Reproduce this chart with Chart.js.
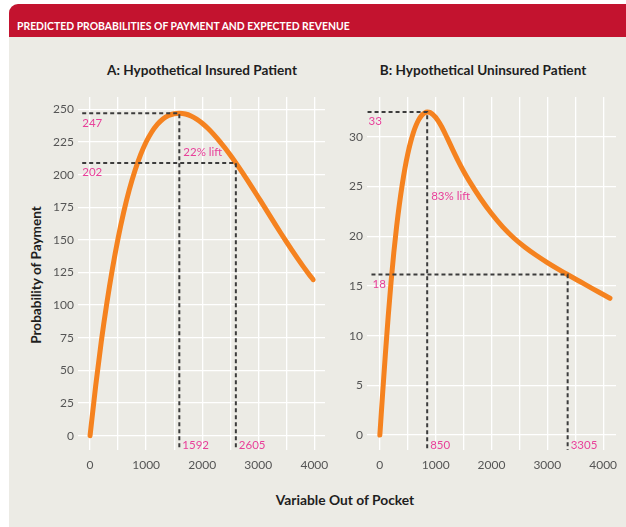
<!DOCTYPE html>
<html>
<head>
<meta charset="utf-8">
<script src="https://cdn.jsdelivr.net/npm/chart.js@4.4.1/dist/chart.umd.min.js"></script>
<style>
  html, body { margin:0; padding:0; background:#ffffff; width:626px; height:527px; overflow:hidden; }
  #card { position:absolute; left:9px; top:4px; width:617px; height:523px; background:#ecebe5; border-top-left-radius:9px; overflow:hidden; }
  #bar { position:absolute; left:0; top:0; width:617px; height:33px; background:#c3132f; }
  #hdr { position:absolute; left:8px; top:15px; font:bold 11.2px Lato, sans-serif; color:#fff; line-height:13px; white-space:nowrap; transform:scaleX(0.93); transform-origin:left center; }
  .ttl { position:absolute; font:bold 13.6px Lato, sans-serif; color:#1e1e1e; white-space:nowrap; transform:translateX(-50%); }
  #ylab { position:absolute; left:36px; top:275px; font:bold 13.6px Lato, sans-serif; color:#1e1e1e; white-space:nowrap; transform:translate(-50%,-50%) rotate(-90deg); }
  #xlab { position:absolute; left:345px; top:491px; font:bold 13.8px Lato, sans-serif; color:#1e1e1e; white-space:nowrap; transform:translateX(-50%); }
  canvas { position:absolute; }
</style>
</head>
<body>
<div id="card"><div id="bar"></div><div id="hdr">PREDICTED PROBABILITIES OF PAYMENT AND EXPECTED REVENUE</div></div>
<div class="ttl" style="left:202px; top:62px;">A: Hypothetical Insured Patient</div>
<div class="ttl" style="left:483px; top:62px;">B: Hypothetical Uninsured Patient</div>
<div id="ylab">Probability of Payment</div>
<div id="xlab">Variable Out of Pocket</div>
<div style="position:absolute; left:40px; top:90px; width:290px; height:380px;"><canvas id="cA"></canvas></div>
<div style="position:absolute; left:330px; top:90px; width:292px; height:380px;"><canvas id="cB"></canvas></div>
<script>
// ---- Data ----
const insuredX = [0, 100, 200, 300, 400, 500, 600, 700, 800, 900, 1000, 1100, 1200, 1300, 1400, 1500, 1592,
                  1700, 1800, 1900, 2000, 2100, 2200, 2300, 2400, 2500, 2600, 2700, 2800, 2900, 3000, 3100, 3200,
                  3300, 3400, 3500, 3600, 3700, 3800, 3900, 3979];
const insuredY = [0, 38, 72, 101.7, 128.1, 151.3, 171.3, 188.5, 203, 215.2, 225, 232.7, 238.5, 242.7, 245.3, 246.7, 247,
                  246.45, 244.96, 242.59, 239.43, 235.57, 231.1, 226.13, 220.73, 214.99, 209, 202.7, 196.2, 189.5, 182.7, 175.9, 169,
                  162.1, 155.3, 148.6, 142.1, 135.8, 129.7, 123.9, 119.5];

const uninsuredX = [0, 50, 100, 150, 200, 250, 300, 350, 400, 450, 500, 550, 600, 650, 700, 750, 800, 848,
                    900, 1000, 1100, 1200, 1300, 1400, 1500, 1600, 1800, 2000, 2200, 2400, 2600, 2800, 3000, 3200, 3400, 3600, 3800, 4000, 4122];
const uninsuredY = [0, 4.2, 8.2, 11.95, 15.35, 18.35, 20.95, 23.2, 25.15, 26.85, 28.27, 29.45, 30.41, 31.17, 31.75, 32.15, 32.39, 32.5,
                    32.44, 31.96, 31.09, 29.96, 28.76, 27.6, 26.53, 25.56, 23.82, 22.28, 20.94, 19.82, 18.89, 18.08, 17.35, 16.67, 16.02, 15.39, 14.76, 14.14, 13.76];

const xTicks = [0, 1000, 2000, 3000, 4000];
const xGrid = [0, 500, 1000, 1500, 2000, 2500, 3000, 3500, 4000];
const yTicksA = [0, 25, 50, 75, 100, 125, 150, 175, 200, 225, 250];
const yTicksB = [0, 5, 10, 15, 20, 25, 30];

// guide points (x, y) and their labels
const guideAX = [1592, 2600];
const guideAY = [247, 209];
const guideAStart = [-140, -140];
const guideALabelX = ['1592', '2605'];
const guideALabelY = ['247', '202'];
const liftA = '22% lift';
const liftAY = 217.5;

const guideBX = [848, 3364];
const guideBY = [32.5, 16.15];
const guideBStart = [-220, -150];
const guideBLabelX = ['850', '3305'];
const guideBLabelY = ['33', '18'];
const liftB = '83% lift';
const liftBY = 24;

const ORANGE = '#f5821f';
const PINK = '#e8409a';
const DASH = '#3c3c3c';
const FONT = 'Lato, sans-serif';

function pts(xs, ys) { return xs.map((x, i) => ({x: x, y: ys[i]})); }

const pinkPlugin = {
  id: 'pinkLabels',
  afterDatasetsDraw(chart, args, opts) {
    const ctx = chart.ctx, xs = chart.scales.x, ys = chart.scales.y;
    ctx.save();
    ctx.fillStyle = PINK;
    ctx.font = '11.5px ' + FONT;
    ctx.textAlign = 'left';
    ctx.textBaseline = 'top';
    const g = opts.g;
    for (let i = 0; i < g.gx.length; i++) {
      ctx.fillText(g.lx[i], xs.getPixelForValue(g.gx[i]) + 3, ys.getPixelForValue(0) + 4);
      ctx.fillText(g.ly[i], xs.getPixelForValue(g.start[i]) + g.lyOff, ys.getPixelForValue(g.gy[i]) + 4);
    }
    ctx.textBaseline = 'middle';
    ctx.fillText(g.lift, xs.getPixelForValue(g.gx[0]) + 4, ys.getPixelForValue(g.liftY));
    ctx.restore();
  }
};

function makeChart(id, xs, ys, g, xmin, xmax, ymin, ymax, yTicks, yWidth, padRight) {
  const guideSets = [];
  for (let i = 0; i < g.gx.length; i++) {
    guideSets.push({
      data: [{x: g.start[i], y: g.gy[i]}, {x: g.gx[i], y: g.gy[i]}, {x: g.gx[i], y: ymin}],
      borderColor: DASH, borderWidth: 2, borderDash: [4, 3], pointRadius: 0, tension: 0, fill: false
    });
  }
  return new Chart(document.getElementById(id), {
    type: 'scatter',
    data: {
      datasets: guideSets.concat([{
        data: pts(xs, ys), showLine: true, borderColor: ORANGE, borderWidth: 5,
        borderCapStyle: 'round', borderJoinStyle: 'round',
        pointRadius: 0, cubicInterpolationMode: 'monotone', fill: false
      }])
    },
    options: {
      responsive: true, maintainAspectRatio: false, animation: false,
      layout: { padding: { top: 7, right: padRight, left: 0, bottom: 0 } },
      plugins: { legend: { display: false }, tooltip: { enabled: false }, pinkLabels: { g: g } },
      datasets: { scatter: { showLine: true } },
      scales: {
        x: {
          type: 'linear', min: xmin, max: xmax,
          afterBuildTicks: s => { s.ticks = xGrid.map(v => ({value: v})); },
          afterFit: s => { s.height = 20; s.paddingLeft = 0; s.paddingRight = 0; },
          grid: { color: '#ffffff', lineWidth: 1.3, drawTicks: false },
          border: { display: false },
          ticks: { padding: 8, color: '#555', font: { family: FONT, size: 12 }, maxRotation: 0,
                   callback: v => xTicks.includes(v) ? String(v) : '' }
        },
        y: {
          type: 'linear', min: ymin, max: ymax,
          afterBuildTicks: s => { s.ticks = yTicks.map(v => ({value: v})); },
          afterFit: s => { s.width = yWidth; s.paddingTop = 0; s.paddingBottom = 0; },
          grid: { color: '#ffffff', lineWidth: 1.3, drawTicks: false },
          border: { display: false },
          ticks: { padding: 4, color: '#555', font: { family: FONT, size: 12 }, callback: v => String(v) }
        }
      }
    },
    plugins: [pinkPlugin]
  });
}

makeChart('cA', insuredX, insuredY,
  { gx: guideAX, gy: guideAY, start: guideAStart, lx: guideALabelX, ly: guideALabelY, lift: liftA, liftY: liftAY, lyOff: 0 },
  -215, 4190, -11, 259.5, yTicksA, 38, 5);
makeChart('cB', uninsuredX, uninsuredY,
  { gx: guideBX, gy: guideBY, start: guideBStart, lx: guideBLabelX, ly: guideBLabelY, lift: liftB, liftY: liftBY, lyOff: 1 },
  -230, 4230, -1.5, 34, yTicksB, 37, 6);
</script>
</body>
</html>
